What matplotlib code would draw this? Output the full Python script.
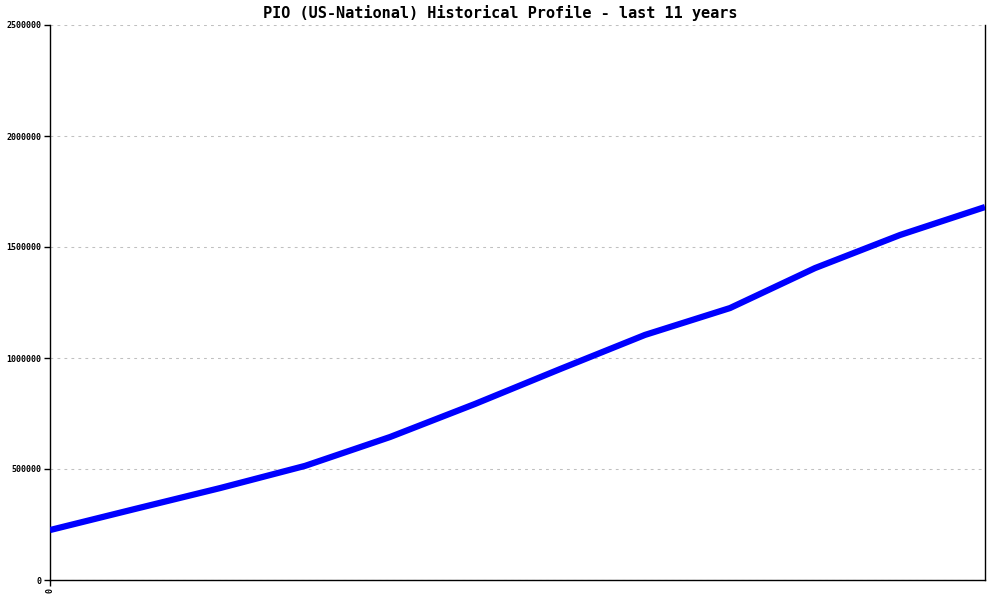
import matplotlib
matplotlib.use("Agg")
import matplotlib.pyplot as plt

# Data (yearly points over the last 11 years)
x_index = list(range(12))
values = [225000, 320000, 414000, 514000, 644000, 793000, 950000,
          1104000, 1225000, 1405000, 1554000, 1680000]
y_ticks = [0, 500000, 1000000, 1500000, 2000000, 2500000]
x_tick_labels = ["0"]
title = "PIO (US-National) Historical Profile - last 11 years"

plt.rcParams['font.family'] = ['DejaVu Sans Mono']

fig = plt.figure(figsize=(10, 6), dpi=100)
ax = fig.add_axes([0.05, 1 - 580 / 600, 0.935, (580 - 25) / 600])

ax.plot(x_index, values, color=(0, 0, 1), linewidth=4.5, solid_capstyle='butt',
        solid_joinstyle='round', zorder=3)

ax.set_xlim(0, 11)
ax.set_ylim(0, 2500000)
ax.set_yticks(y_ticks)
ax.set_yticklabels([str(v) for v in y_ticks], fontsize=6, fontweight='bold')
ax.set_xticks([0])
ax.set_xticklabels(x_tick_labels, fontsize=6, rotation=90, fontweight='bold')

ax.grid(axis='y', color='#c0c0c0', linestyle=(0, (2.7, 4)), linewidth=0.75)
ax.set_axisbelow(True)

ax.spines['top'].set_visible(False)
for s in ['left', 'right', 'bottom']:
    ax.spines[s].set_color('black')
    ax.spines[s].set_linewidth(1.0)

ax.tick_params(axis='both', direction='out', length=4, width=1, color='black',
               pad=2, labelcolor='black')

fig.text(0.5, 1 - 13 / 600, title, ha='center', va='center', fontsize=11,
         color='black', fontweight='semibold')

fig.savefig("out.png", dpi=100, facecolor='white')
